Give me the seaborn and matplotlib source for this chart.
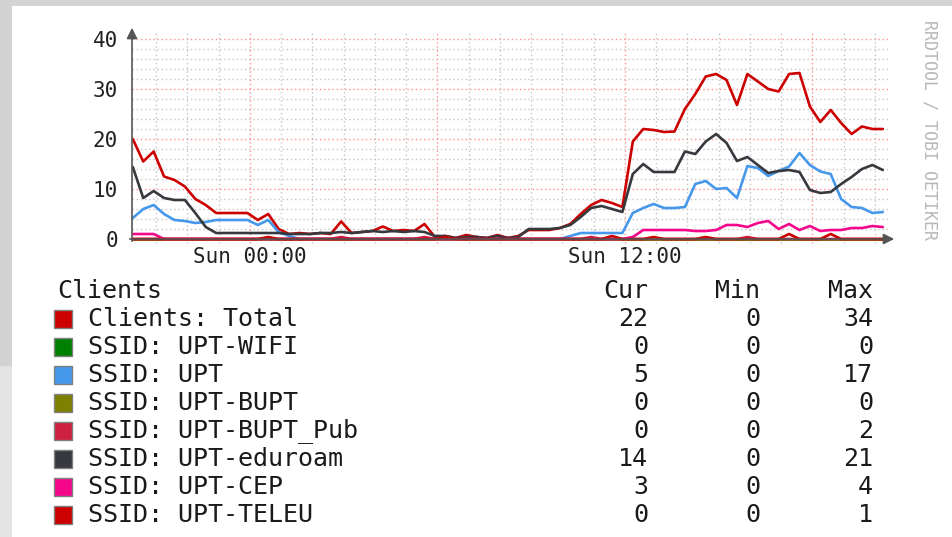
import numpy as np
import pandas as pd
import matplotlib
matplotlib.use("Agg")
import matplotlib.pyplot as plt
from matplotlib.patches import Rectangle
import seaborn as sns

# time axis: hours relative to Sun 00:00, one sample every 20 minutes
hours = np.linspace(-3.75, 20.25, 73)

total = [20, 15.5, 17.5, 12.5, 11.8, 10.5, 8, 6.8, 5.2, 5.2, 5.2, 5.2,
         3.8, 5.0, 2.0, 1.0, 1.2, 1.0, 1.2, 1.0, 3.5, 1.2, 1.4, 1.6,
         2.5, 1.6, 1.8, 1.6, 3.0, 0.4, 0.6, 0.2, 0.8, 0.4, 0.2, 0.8,
         0.2, 0.6, 1.8, 1.8, 1.8, 2.2, 3.0, 5.0, 6.8, 7.8, 7.2, 6.4,
         19.5, 22, 21.8, 21.4, 21.5, 26, 29, 32.5, 33, 31.8, 26.8, 33,
         31.5, 30, 29.5, 33, 33.2, 26.5, 23.4, 25.8, 23.2, 21, 22.5, 22, 22]
wifi = [0] * 73
upt = [4.2, 6.0, 6.8, 5.0, 3.8, 3.6, 3.2, 3.4, 3.8, 3.8, 3.8, 3.8,
       2.8, 3.8, 1.4, 0.6, 0, 0, 0, 0, 0, 0, 0, 0,
       0, 0, 0, 0, 0, 0, 0, 0, 0, 0, 0, 0,
       0, 0, 0, 0, 0, 0, 0.6, 1.2, 1.2, 1.2, 1.2, 1.2,
       5.2, 6.2, 7.0, 6.2, 6.2, 6.4, 11, 11.6, 10, 10.2, 8.2, 14.6,
       14.2, 12.6, 13.6, 14.5, 17.2, 14.8, 13.5, 13.0, 8, 6.4, 6.2, 5.2, 5.4]
bupt = [0] * 73
bupt_pub = [0, 0, 0, 0, 0, 0, 0, 0, 0, 0, 0, 0,
            0, 0, 0, 0, 0, 0, 0, 0, 0.4, 0, 0, 0,
            0, 0, 0, 0, 0.4, 0, 0, 0, 0, 0.4, 0, 0,
            0, 0, 0, 0, 0, 0, 0, 0, 0.4, 0, 0, 0,
            0, 0, 0, 0, 0, 0, 0, 0, 0, 0, 0, 0.4,
            0, 0, 0, 0, 0, 0, 0, 0, 0, 0, 0, 0, 0]
eduroam = [14.4, 8.2, 9.6, 8.2, 7.8, 7.8, 5.2, 2.4, 1.2, 1.2, 1.2, 1.2,
           1.2, 1.2, 1.2, 1.0, 1.0, 1.0, 1.2, 1.2, 1.4, 1.2, 1.4, 1.6,
           1.4, 1.6, 1.4, 1.6, 1.4, 0.6, 0.6, 0.2, 0.4, 0.4, 0.2, 0.6,
           0.2, 0.4, 2.0, 2.0, 2.0, 2.2, 2.8, 4.4, 6.2, 6.6, 6.0, 5.4,
           13, 15, 13.4, 13.4, 13.4, 17.5, 17, 19.5, 21, 19.2, 15.6, 16.4,
           14.8, 13.2, 13.6, 13.8, 13.4, 9.8, 9.2, 9.4, 11, 12.4, 14, 14.8, 13.8]
cep = [1, 1, 1, 0, 0, 0, 0, 0, 0, 0, 0, 0,
       0, 0, 0, 0, 0, 0, 0, 0, 0, 0, 0, 0,
       0, 0, 0, 0, 0, 0, 0, 0, 0, 0, 0, 0,
       0, 0, 0, 0, 0, 0, 0, 0, 0, 0, 0, 0,
       0.4, 1.8, 1.8, 1.8, 1.8, 1.8, 1.6, 1.6, 1.8, 2.8, 2.8, 2.4,
       3.2, 3.6, 2.0, 3.0, 1.8, 2.6, 1.6, 1.8, 1.8, 2.2, 2.2, 2.6, 2.4]
teleu = [0, 0, 0, 0, 0, 0, 0, 0, 0, 0, 0, 0,
         0, 0.4, 0, 0, 0, 0, 0, 0, 0, 0, 0, 0,
         0, 0, 0, 0, 0, 0, 0.4, 0, 0, 0, 0, 0,
         0, 0, 0, 0, 0, 0, 0, 0, 0, 0, 0.6, 0,
         0, 0, 0.4, 0, 0, 0, 0, 0.4, 0, 0, 0, 0,
         0, 0, 0, 1.0, 0, 0, 0, 1.0, 0, 0, 0, 0, 0]

series_names = ["Clients: Total", "SSID: UPT-WIFI", "SSID: UPT", "SSID: UPT-BUPT",
                "SSID: UPT-BUPT_Pub", "SSID: UPT-eduroam", "SSID: UPT-CEP", "SSID: UPT-TELEU"]
series_values = [total, wifi, upt, bupt, bupt_pub, eduroam, cep, teleu]
colors = ["#CC0000", "#008000", "#4598EA", "#808000",
          "#D02040", "#36393D", "#F5078C", "#CC0000"]
cur_vals = [22, 0, 5, 0, 0, 14, 3, 0]
min_vals = [0, 0, 0, 0, 0, 0, 0, 0]
max_vals = [34, 0, 17, 0, 2, 21, 4, 1]

major_ticks = [0, 10, 20, 30, 40]
time_ticks = [0, 12]
time_labels = ["Sun 00:00", "Sun 12:00"]

sns.set_style("white")
plt.rcParams["font.family"] = ["DejaVu Sans Mono"]

W, H = 953, 537
fig = plt.figure(figsize=(W / 100, H / 100), dpi=100)
fig.patch.set_facecolor("white")

# grey page border
fig.patches.append(Rectangle((0, 1 - 6 / H), 1, 6 / H, transform=fig.transFigure,
                             facecolor="#d4d4d4", edgecolor="none"))
fig.patches.append(Rectangle((0, (H - 366) / H), 12 / W, 366 / H, transform=fig.transFigure,
                             facecolor="#d2d2d2", edgecolor="none"))
fig.patches.append(Rectangle((0, 0), 12 / W, (H - 366) / H, transform=fig.transFigure,
                             facecolor="#e3e3e3", edgecolor="none"))

# plot area in pixels: x 132..890, y 244 (value -1) .. 25 (value 42.8)
ax = fig.add_axes([132 / W, (H - 244) / H, (890 - 132) / W, (244 - 25) / H])
ax.set_facecolor("none")
x0, x1 = (132 - 250) / 31.25, (890 - 250) / 31.25
ax.set_xlim(x0, x1)
ax.set_ylim(-1, 42.8)
for s in ax.spines.values():
    s.set_visible(False)

# grid
minor_y = [v for v in range(2, 41, 2) if v % 10 != 0]
ax.hlines(minor_y, x0, (888 - 250) / 31.25, colors="#c4c4c4", linestyles=(0, (1, 2)), lw=1)
ax.hlines(major_ticks[1:], x0, (888 - 250) / 31.25, colors="#ff9090", linestyles=(0, (1, 2)), lw=1)
hour_lines = [h for h in range(-3, 21) if h % 6 != 0]
ax.vlines(hour_lines, -0.8, 41.2, colors="#c4c4c4", linestyles=(0, (1, 2)), lw=1)
ax.vlines([0, 6, 12, 18], -0.8, 41.2, colors="#ff9090", linestyles=(0, (1, 2)), lw=1)

# draw series in legend order, like rrdtool does
for name, vals, col in zip(series_names, series_values, colors):
    sdf = pd.DataFrame({"hours": hours, "clients": vals})
    sns.lineplot(data=sdf, x="hours", y="clients", color=col, linewidth=1.9, ax=ax)

# axes with arrows
ax.annotate("", xy=((897 - 250) / 31.25, 0), xytext=((127 - 250) / 31.25, 0),
            arrowprops=dict(arrowstyle="-|>", color="#555555", lw=1.2, mutation_scale=16),
            annotation_clip=False, zorder=5)
ax.annotate("", xy=(x0, 42.8), xytext=(x0, -1),
            arrowprops=dict(arrowstyle="-|>", color="#555555", lw=1.2, mutation_scale=16),
            annotation_clip=False, zorder=5)

ax.set_yticks(major_ticks)
ax.set_yticklabels([str(v) for v in major_ticks])
ax.set_xticks(time_ticks)
ax.set_xticklabels(time_labels)
ax.tick_params(axis="y", length=0, pad=10, labelsize=15, labelcolor="#222222")
ax.tick_params(axis="x", length=0, pad=2, labelsize=15, labelcolor="#222222")
ax.set_xlabel("")
ax.set_ylabel("")

# watermark
fig.text(930 / W, 1 - 130 / H, "RRDTOOL / TOBI OETIKER", rotation=270,
         ha="center", va="center", fontsize=12, color="#b8b8b8")

# legend table
def fy(py):
    return 1 - py / H

fs = 18
txt = "#1a1a1a"
fig.text(57 / W, fy(291), "Clients", fontsize=fs, va="center", color=txt)
fig.text(648 / W, fy(291), "Cur", fontsize=fs, va="center", ha="right", color=txt)
fig.text(760 / W, fy(291), "Min", fontsize=fs, va="center", ha="right", color=txt)
fig.text(873 / W, fy(291), "Max", fontsize=fs, va="center", ha="right", color=txt)
for i, name in enumerate(series_names):
    py = 319 + 28 * i
    fig.patches.append(Rectangle((54 / W, fy(py + 9)), 18 / W, 18 / H, transform=fig.transFigure,
                                 facecolor=colors[i], edgecolor="#808080", lw=1))
    fig.text(88 / W, fy(py), name, fontsize=fs, va="center", color=txt)
    fig.text(648 / W, fy(py), str(cur_vals[i]), fontsize=fs, va="center", ha="right", color=txt)
    fig.text(760 / W, fy(py), str(min_vals[i]), fontsize=fs, va="center", ha="right", color=txt)
    fig.text(873 / W, fy(py), str(max_vals[i]), fontsize=fs, va="center", ha="right", color=txt)

fig.savefig("out.png", dpi=100)
